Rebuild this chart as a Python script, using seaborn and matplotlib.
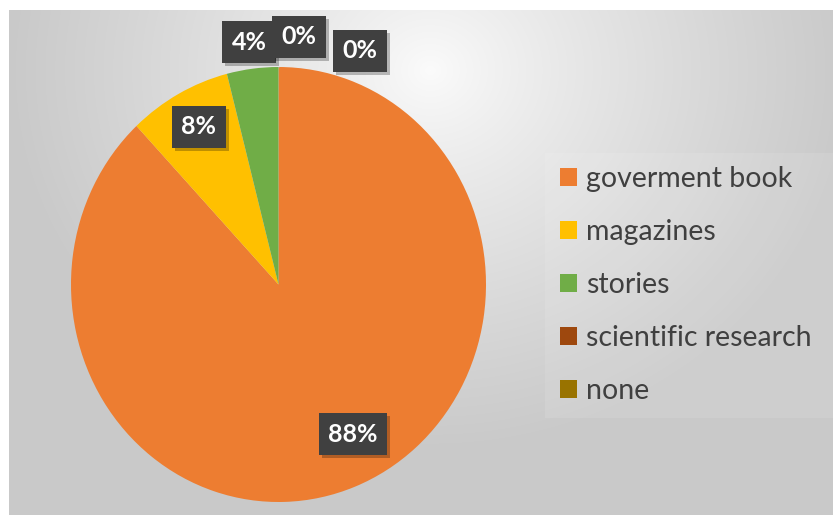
import numpy as np
import matplotlib
matplotlib.use("Agg")
import matplotlib.pyplot as plt
import matplotlib.patheffects as pe
import seaborn as sns

categories = ["goverment book", "magazines", "stories", "scientific research", "none"]
values = [88, 8, 4, 0, 0]
labels = ["88%", "8%", "4%", "0%", "0%"]
colors = ["#ED7D31", "#FFC000", "#70AD47", "#9E480E", "#997300"]

sns.set_theme(style="white")
plt.rcParams['font.family'] = ['Lato', 'DejaVu Sans']

W, H = 833, 515
fig = plt.figure(figsize=(W / 100, H / 100), dpi=100)
fig.patch.set_facecolor("white")

# background gradient panel
bg = fig.add_axes([9 / W, 0, 1 - 9 / W, 1 - 10 / H])
bg.set_axis_off()
yy, xx = np.mgrid[10:H, 9:W]
d = np.sqrt(((xx - 430) / 1.0) ** 2 + ((yy - 70) / 0.9) ** 2)
t = np.clip(d / 420, 0, 1) ** 0.85
lo, hi = 0.985, 0.79
img = hi + (lo - hi) * (1 - t)
bg.imshow(np.dstack([img, img, img]), aspect="auto", extent=[0, 1, 0, 1])

# pie axes
cx, cy, rx, ry = 278.5, 284.5, 207.5, 217.5
ax = fig.add_axes([(cx - rx) / W, (H - cy - ry) / H, 2 * rx / W, 2 * ry / H])
wedges, _ = ax.pie(values, colors=colors, startangle=90, counterclock=False,
                   wedgeprops=dict(linewidth=0))
ax.set_aspect("auto")
ax.set_xlim(-1, 1)
ax.set_ylim(-1, 1)
ax.set_axis_off()

def px2data(x, y):
    return (x - cx) / rx, (cy - y) / ry

label_px = [(353, 434), (199, 127), (249, 42), (299, 37), (360, 51)]

# leader lines for the zero slices
lx = [px2data(279, 67), px2data(292, 57)]
ax.plot([p[0] for p in lx], [p[1] for p in lx], color="#a6a6a6", lw=1, zorder=3)
lx2 = [px2data(322, 42), px2data(337, 42)]
ax.plot([p[0] for p in lx2], [p[1] for p in lx2], color="#a6a6a6", lw=1, zorder=3)

for lab, (px, py) in zip(labels, label_px):
    x, y = px2data(px, py)
    t_ = ax.text(x, y, lab, ha="center", va="center", fontsize=18, fontweight="bold",
                 color="white", zorder=5,
                 bbox=dict(boxstyle="square,pad=0.38", fc="#404040", ec="none"))
    t_.get_bbox_patch().set_path_effects([
        pe.SimplePatchShadow(offset=(2, -2), shadow_rgbFace="black", alpha=0.25),
        pe.Normal()])

# legend
leg_bg = plt.Rectangle((545 / W, (H - 418) / H), (W - 545) / W, (418 - 153) / H,
                       transform=fig.transFigure, fc="white", alpha=0.1, ec="none", zorder=1)
fig.add_artist(leg_bg)
leg = fig.legend(wedges, categories, loc="center left",
                 bbox_to_anchor=(549 / W, (H - 285) / H),
                 frameon=False, fontsize=20.5, handlelength=0.58, handleheight=0.58,
                 handletextpad=0.32, labelspacing=0.95, borderaxespad=0)
for txt in leg.get_texts():
    txt.set_color("#404040")

fig.savefig("out.png", dpi=100, facecolor=fig.get_facecolor())
